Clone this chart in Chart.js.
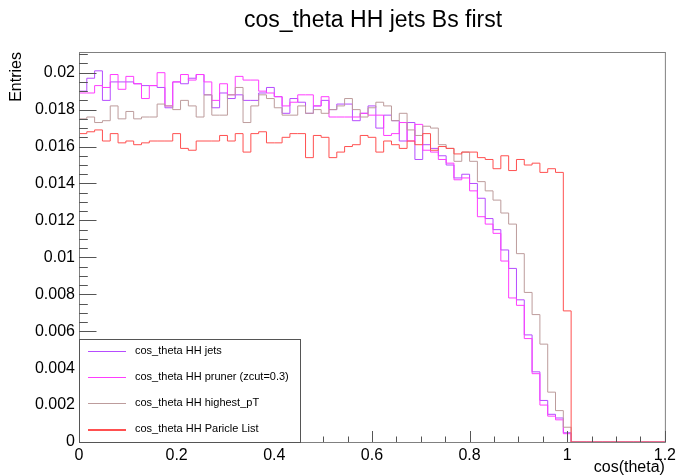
<!DOCTYPE html>
<html>
<head>
<meta charset="utf-8">
<script src="https://cdn.jsdelivr.net/npm/chart.js@4.4.1/dist/chart.umd.min.js"></script>
<style>
  html, body { margin: 0; padding: 0; background: #fff; }
  #wrap { width: 680px; height: 476px; }
</style>
</head>
<body>
<div id="wrap"><canvas id="hist"></canvas></div>
<script>
// histogram binning: 75 bins of 0.016 between 0 and 1.2
const binLow = 0;
const binWidth = 0.016;
const nBins = 75;

// bin contents (first 63 bins, the rest are empty)
const jets = [
  0.0190, 0.0197, 0.0201, 0.0185, 0.0195, 0.0195, 0.0195, 0.0194, 0.0193, 0.0193,
  0.0192, 0.0181, 0.0195, 0.0194, 0.0197, 0.0199, 0.0188, 0.0181, 0.0189, 0.0186,
  0.0188, 0.0185, 0.0185, 0.0189, 0.0192, 0.0187, 0.0178, 0.0186, 0.0184, 0.0178,
  0.0182, 0.0185, 0.0180, 0.0183, 0.0183, 0.0174, 0.0178, 0.0182, 0.0170, 0.0177,
  0.0174, 0.0163, 0.0173, 0.0153, 0.0161, 0.0159, 0.0155, 0.0150, 0.0143, 0.0145,
  0.0140, 0.0132, 0.0121, 0.0115, 0.0104, 0.0094, 0.0077, 0.0058, 0.0038, 0.00225,
  0.0015, 0.0013, 0.0005
];
const pruner = [
  0.0189, 0.0189, 0.0193, 0.0192, 0.0199, 0.0191, 0.0198, 0.0194, 0.0186, 0.0193,
  0.0200, 0.0182, 0.0195, 0.0199, 0.0196, 0.0199, 0.0195, 0.0185, 0.0194, 0.0188,
  0.0198, 0.0196, 0.0196, 0.0190, 0.0189, 0.0187, 0.0182, 0.0184, 0.0188, 0.0188,
  0.0182, 0.0187, 0.0176, 0.0176, 0.0176, 0.0176, 0.0178, 0.0177, 0.0177, 0.0166,
  0.0167, 0.0173, 0.0163, 0.0172, 0.0158, 0.0157, 0.0153, 0.0151, 0.0142, 0.0143,
  0.0136, 0.0122, 0.0118, 0.0113, 0.0098, 0.0078, 0.0074, 0.0056, 0.0037, 0.0020,
  0.0014, 0.0012, 0.00045
];
const highestPt = [
  0.0175, 0.0176, 0.0173, 0.0174, 0.0182, 0.0175, 0.0179, 0.0175, 0.0176, 0.0176,
  0.0183, 0.0182, 0.0180, 0.0185, 0.0182, 0.0176, 0.0188, 0.0177, 0.0177, 0.0188,
  0.0192, 0.0173, 0.0182, 0.0188, 0.0186, 0.0181, 0.0177, 0.0177, 0.0182, 0.0178,
  0.0180, 0.0178, 0.0180, 0.0182, 0.0186, 0.0180, 0.0176, 0.0181, 0.0184, 0.0182,
  0.0174, 0.0178, 0.0169, 0.0166, 0.0171, 0.0170, 0.0161, 0.0159, 0.0152, 0.0157,
  0.0152, 0.0141, 0.0136, 0.0131, 0.0124, 0.0118, 0.0102, 0.0081, 0.0069, 0.0053,
  0.0027, 0.0017, 0.0008
];
const particleList = [
  0.0167, 0.0168, 0.0169, 0.0163, 0.0167, 0.0162, 0.0163, 0.0161, 0.0162, 0.0163,
  0.0163, 0.0163, 0.0167, 0.0159, 0.0158, 0.0163, 0.0163, 0.0163, 0.0166, 0.0163,
  0.0167, 0.0157, 0.0167, 0.0168, 0.0162, 0.0162, 0.0165, 0.0167, 0.0167, 0.0154,
  0.0166, 0.0165, 0.0154, 0.0157, 0.0160, 0.0161, 0.0166, 0.0165, 0.0157, 0.0163,
  0.0161, 0.0159, 0.0163, 0.0161, 0.0167, 0.0158, 0.0160, 0.0159, 0.0156, 0.0157,
  0.0157, 0.0154, 0.0153, 0.0148, 0.0155, 0.0147, 0.0153, 0.0150, 0.0151, 0.0146,
  0.0148, 0.0146, 0.0071
];

const seriesNames = [
  'cos_theta HH jets',
  'cos_theta HH pruner (zcut=0.3)',
  'cos_theta HH highest_pT',
  'cos_theta HH Paricle List'
];
const seriesColors = ['#b64cff', '#ff3dff', '#bd9c9c', '#ff5050'];

const xTickValues = [0, 0.2, 0.4, 0.6, 0.8, 1, 1.2];
const xTickLabels = ['0', '0.2', '0.4', '0.6', '0.8', '1', '1.2'];
const yTickValues = [0, 0.002, 0.004, 0.006, 0.008, 0.01, 0.012, 0.014, 0.016, 0.018, 0.02];
const yTickLabels = ['0', '0.002', '0.004', '0.006', '0.008', '0.01', '0.012', '0.014', '0.016', '0.018', '0.02'];

const titleText = 'cos_theta HH jets Bs first';
const xTitle = 'cos(theta)';
const yTitle = 'Entries';

// turn bin contents into step points at the low edge of each bin
function toSteps(values) {
  const pts = [];
  for (let i = 0; i < nBins; i++) {
    pts.push({ x: binLow + i * binWidth, y: i < values.length ? values[i] : 0 });
  }
  pts.push({ x: binLow + nBins * binWidth, y: 0 });
  return pts;
}

const allSeries = [jets, pruner, highestPt, particleList];

const FONT = "'Liberation Sans', Arial, Helvetica, sans-serif";

// ROOT-like frame, inward ticks, titles and legend box
const rootStyle = {
  id: 'rootStyle',
  afterDraw(chart) {
    const { ctx, chartArea: a, scales: { x, y } } = chart;
    ctx.save();

    // frame
    ctx.strokeStyle = '#808080';
    ctx.lineWidth = 1;
    ctx.strokeRect(a.left + 0.5, a.top + 0.5, a.right - a.left, a.bottom - a.top);

    // x ticks (major 0.2, minor 0.05)
    ctx.strokeStyle = '#555';
    ctx.beginPath();
    for (let i = 0; i <= 24; i++) {
      const px = Math.round(x.getPixelForValue(i * 0.05)) + 0.5;
      const len = i % 4 === 0 ? 11 : 5.5;
      ctx.moveTo(px, a.bottom);
      ctx.lineTo(px, a.bottom - len);
    }
    // y ticks (major 0.002, minor 0.0005)
    for (let i = 0; i <= 42; i++) {
      const py = Math.round(y.getPixelForValue(i * 0.0005)) + 0.5;
      if (py < a.top) break;
      const len = i % 4 === 0 ? 17.5 : 8.8;
      ctx.moveTo(a.left, py);
      ctx.lineTo(a.left + len, py);
    }
    ctx.stroke();

    // titles
    ctx.fillStyle = '#000';
    ctx.font = '23px ' + FONT;
    ctx.textAlign = 'center';
    ctx.textBaseline = 'alphabetic';
    ctx.fillText(titleText, 373, 27);

    ctx.font = '16px ' + FONT;
    ctx.textAlign = 'right';
    ctx.fillText(xTitle, a.right, 472);

    ctx.save();
    ctx.translate(21, a.top);
    ctx.rotate(-Math.PI / 2);
    ctx.textAlign = 'right';
    ctx.fillText(yTitle, 0, 0);
    ctx.restore();

    // legend box
    const lx = a.left, ly = 339, lw = 221, lh = a.bottom - 339;
    ctx.fillStyle = '#fff';
    ctx.fillRect(lx, ly, lw, lh);
    ctx.strokeStyle = '#555';
    ctx.strokeRect(lx + 0.5, ly + 0.5, lw, lh);
    const rows = [351, 377, 403, 428.5];
    ctx.font = '11px ' + FONT;
    ctx.textAlign = 'left';
    ctx.textBaseline = 'middle';
    seriesNames.forEach((name, i) => {
      ctx.fillStyle = seriesColors[i];
      ctx.fillRect(88, Math.round(rows[i]), 38, i === 3 ? 2 : 1);
      ctx.fillStyle = '#000';
      ctx.fillText(name, 135, rows[i]);
    });

    ctx.restore();
  }
};

new Chart(document.getElementById('hist').getContext('2d'), {
  type: 'line',
  data: {
    datasets: allSeries.map((vals, i) => ({
      label: seriesNames[i],
      data: toSteps(vals),
      borderColor: seriesColors[i],
      borderWidth: 1,
      stepped: true,
      pointRadius: 0,
      fill: false,
      tension: 0,
      order: 4 - i
    }))
  },
  options: {
    responsive: true,
    maintainAspectRatio: false,
    animation: false,
    layout: { padding: { left: 0, top: 52, right: 12, bottom: 0 } },
    plugins: {
      legend: { display: false },
      tooltip: { enabled: false }
    },
    scales: {
      x: {
        type: 'linear',
        min: 0,
        max: 1.2,
        grid: { display: false, drawTicks: false },
        border: { display: false },
        afterBuildTicks: (scale) => { scale.ticks = xTickValues.map(v => ({ value: v })); },
        afterFit: (scale) => { scale.height = 34; },
        ticks: {
          padding: 4,
          maxRotation: 0,
          autoSkip: false,
          color: '#000',
          font: { family: FONT, size: 16 },
          callback: (v) => xTickLabels[xTickValues.indexOf(v)]
        }
      },
      y: {
        type: 'linear',
        min: 0,
        max: 0.02112,
        grid: { display: false, drawTicks: false },
        border: { display: false },
        afterBuildTicks: (scale) => { scale.ticks = yTickValues.map(v => ({ value: v })); },
        afterFit: (scale) => { scale.width = 79; },
        ticks: {
          padding: 4,
          autoSkip: false,
          color: '#000',
          font: { family: FONT, size: 16 },
          callback: (v) => yTickLabels[yTickValues.indexOf(v)]
        }
      }
    }
  },
  plugins: [rootStyle]
});
</script>
</body>
</html>
